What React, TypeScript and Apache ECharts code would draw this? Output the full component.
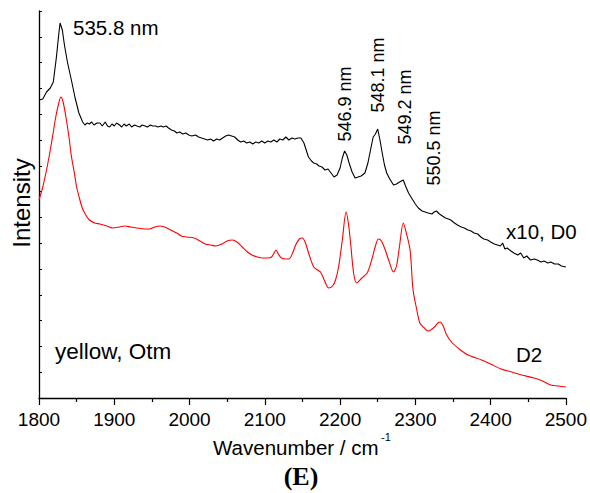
import React, { useEffect, useRef } from "react";
import * as echarts from "echarts";

// Raman spectra of the yellow sample (Otm): D0 scaled x10 (black) and D2 (red)
// Each point: [wavenumber / cm-1, intensity (arb. units)]
const spectrumD0: [number, number][] = [
  [1800, 298], [1805, 299], [1810, 306], [1815, 310], [1819, 316], [1823, 340], [1826, 362], [1828, 375],
  [1831, 368], [1834, 352], [1838, 335], [1843, 318], [1848, 300], [1853, 285], [1858, 276], [1861, 273],
  [1864, 275], [1867, 274], [1870, 276], [1873, 273], [1877, 275], [1881, 275], [1884, 272], [1888, 276],
  [1891, 272], [1894, 271], [1897, 274], [1900, 272], [1903, 275], [1907, 273], [1910, 271], [1913, 274],
  [1916, 272], [1920, 274], [1923, 271], [1927, 273], [1930, 272], [1934, 271], [1937, 273], [1941, 272],
  [1944, 271], [1948, 273], [1951, 272], [1955, 272], [1958, 271], [1962, 272], [1965, 271], [1969, 272],
  [1972, 270], [1976, 268], [1980, 267], [1983, 265], [1987, 266], [1991, 264], [1995, 265], [1999, 263],
  [2003, 262], [2008, 263], [2012, 261], [2016, 260], [2020, 259], [2024, 258], [2028, 259], [2032, 257],
  [2036, 259], [2040, 258], [2044, 260], [2048, 262], [2052, 263], [2056, 262], [2060, 261], [2064, 258],
  [2068, 256], [2072, 257], [2076, 255], [2080, 256], [2084, 254], [2088, 256], [2092, 255], [2096, 257],
  [2100, 255], [2104, 257], [2108, 256], [2112, 258], [2116, 256], [2120, 259], [2124, 258], [2128, 261],
  [2132, 258], [2136, 260], [2140, 259], [2144, 260], [2148, 260], [2152, 255], [2155, 248], [2158, 241],
  [2162, 237], [2165, 235], [2169, 234], [2172, 232], [2176, 231], [2180, 228], [2184, 229], [2188, 225],
  [2192, 221], [2196, 223], [2200, 230], [2203, 240], [2206, 247], [2209, 243], [2212, 235], [2216, 226],
  [2220, 220], [2224, 221], [2228, 222], [2233, 225], [2237, 235], [2241, 250], [2244, 261], [2247, 264],
  [2250, 269], [2253, 258], [2256, 245], [2259, 233], [2262, 225], [2266, 219], [2271, 213], [2275, 214],
  [2279, 216], [2284, 218], [2287, 212], [2291, 205], [2295, 200], [2300, 194], [2304, 190], [2309, 187],
  [2313, 186], [2317, 185], [2322, 184], [2325, 186], [2328, 187], [2332, 184], [2336, 182], [2340, 180],
  [2344, 179], [2347, 178], [2352, 175], [2356, 173], [2361, 171], [2365, 170], [2370, 168], [2374, 167],
  [2378, 165], [2383, 164], [2387, 161], [2391, 159], [2396, 158], [2400, 156], [2405, 154], [2409, 153],
  [2413, 152], [2416, 155], [2419, 149], [2422, 150], [2427, 147], [2431, 145], [2436, 143], [2440, 145],
  [2444, 140], [2448, 142], [2453, 138], [2458, 139], [2462, 138], [2467, 136], [2471, 137], [2476, 135],
  [2480, 136], [2485, 134], [2490, 134], [2494, 132], [2500, 131],
];

const spectrumD2: [number, number][] = [
  [1800, 198], [1805, 211], [1810, 228], [1815, 248], [1819, 266], [1822, 280], [1826, 294], [1829, 301],
  [1832, 296], [1836, 280], [1840, 260], [1843, 242], [1847, 225], [1850, 211], [1854, 199], [1858, 189],
  [1863, 182], [1867, 178], [1874, 175], [1881, 174], [1890, 172], [1898, 170], [1907, 171], [1914, 172],
  [1922, 171], [1930, 170], [1940, 169], [1947, 169], [1954, 171], [1960, 172], [1967, 171], [1975, 168],
  [1983, 165], [1989, 162], [1996, 161], [2006, 160], [2014, 157], [2021, 154], [2028, 153], [2035, 152],
  [2043, 154], [2050, 157], [2057, 158], [2063, 156], [2070, 151], [2077, 146], [2083, 143], [2090, 141],
  [2097, 140], [2104, 140], [2109, 141], [2113, 146], [2115, 148], [2118, 144], [2122, 140], [2128, 139],
  [2132, 139], [2137, 145], [2141, 153], [2146, 159], [2150, 160], [2154, 155], [2159, 143], [2165, 131],
  [2170, 128], [2174, 126], [2179, 118], [2185, 110], [2190, 112], [2194, 118], [2198, 131], [2203, 158],
  [2208, 186], [2211, 175], [2214, 155], [2218, 125], [2222, 115], [2229, 120], [2236, 125], [2242, 138],
  [2247, 152], [2251, 159], [2255, 157], [2260, 148], [2265, 137], [2271, 126], [2275, 132], [2279, 152],
  [2284, 175], [2288, 165], [2293, 148], [2297, 108], [2302, 88], [2306, 75], [2312, 70], [2317, 67],
  [2324, 70], [2330, 75], [2333, 76], [2337, 72], [2341, 64], [2348, 56], [2360, 48], [2370, 43],
  [2388, 38], [2400, 34], [2414, 29], [2428, 26], [2441, 23], [2458, 20], [2469, 17], [2480, 13],
  [2490, 12], [2500, 11],
];

// Peak wavelengths written next to the bands
const peakLabels = ["535.8 nm", "546.9 nm", "548.1 nm", "549.2 nm", "550.5 nm"];
const traceLabels = ["x10, D0", "D2", "yellow, Otm"];

const SANS = "'Liberation Sans', Arial, Helvetica, sans-serif";
const SERIF = "'Liberation Serif', 'Times New Roman', serif";

export default function App() {
  const ref = useRef<HTMLDivElement>(null);

  useEffect(() => {
    if (!ref.current) return;
    const chart = echarts.init(ref.current, undefined, { renderer: "svg" });

    const txt = (
      text: string,
      x: number,
      y: number,
      size: number,
      opts: { align?: string; rotate?: boolean; font?: string; weight?: string } = {}
    ) => ({
      type: "text",
      x,
      y,
      rotation: opts.rotate ? Math.PI / 2 : 0,
      style: {
        text,
        fill: "#000",
        fontSize: size,
        fontFamily: opts.font || SANS,
        fontWeight: opts.weight || "normal",
        align: opts.align || "left",
        verticalAlign: "middle",
      },
    });

    chart.setOption({
      animation: false,
      backgroundColor: "#fff",
      grid: { left: 39, right: 22, top: 11, bottom: 95, containLabel: false },
      xAxis: {
        type: "value",
        min: 1800,
        max: 2500,
        interval: 100,
        axisLine: { show: true, lineStyle: { color: "#000", width: 1.3 } },
        axisTick: { show: true, inside: false, length: 7, lineStyle: { color: "#000", width: 1.2 } },
        minorTick: { show: true, splitNumber: 2, length: 4, lineStyle: { color: "#000", width: 1.2 } },
        axisLabel: {
          color: "#000",
          fontSize: 19,
          fontFamily: SANS,
          margin: 12,
          formatter: (v: number) => String(v),
        },
        splitLine: { show: false },
      },
      yAxis: {
        type: "value",
        min: 0,
        max: 387,
        interval: 25.8,
        axisLine: { show: true, lineStyle: { color: "#000", width: 1.3 } },
        axisTick: { show: true, inside: true, length: 3, lineStyle: { color: "#000", width: 1 } },
        axisLabel: { show: false },
        splitLine: { show: false },
      },
      series: [
        {
          name: "D0",
          type: "line",
          data: spectrumD0,
          showSymbol: false,
          lineStyle: { color: "#000", width: 1.1 },
          z: 3,
        },
        {
          name: "D2",
          type: "line",
          data: spectrumD2,
          showSymbol: false,
          smooth: 0.3,
          lineStyle: { color: "#ff0000", width: 1.1 },
          z: 2,
        },
      ],
      graphic: [
        txt(peakLabels[0], 73, 27, 20.5),
        txt(peakLabels[1], 345, 104, 18, { align: "center", rotate: true }),
        txt(peakLabels[2], 378, 75, 18, { align: "center", rotate: true }),
        txt(peakLabels[3], 405, 107, 18, { align: "center", rotate: true }),
        txt(peakLabels[4], 434, 148, 18, { align: "center", rotate: true }),
        txt(traceLabels[0], 506, 231, 20.5),
        txt(traceLabels[1], 516, 354, 20.5),
        txt(traceLabels[2], 55, 351, 22.5),
        txt("Intensity", 21, 203, 24, { align: "center", rotate: true }),
        txt("Wavenumber / cm", 213, 447, 20.5),
        txt("-1", 381, 437, 11),
        txt("(E)", 301, 476, 26, { align: "center", font: SERIF, weight: "bold" }),
      ],
    });

    return () => chart.dispose();
  }, []);

  return (
    <div
      ref={ref}
      style={{ position: "fixed", left: 0, top: 0, width: 590, height: 493, background: "#fff" }}
    />
  );
}
